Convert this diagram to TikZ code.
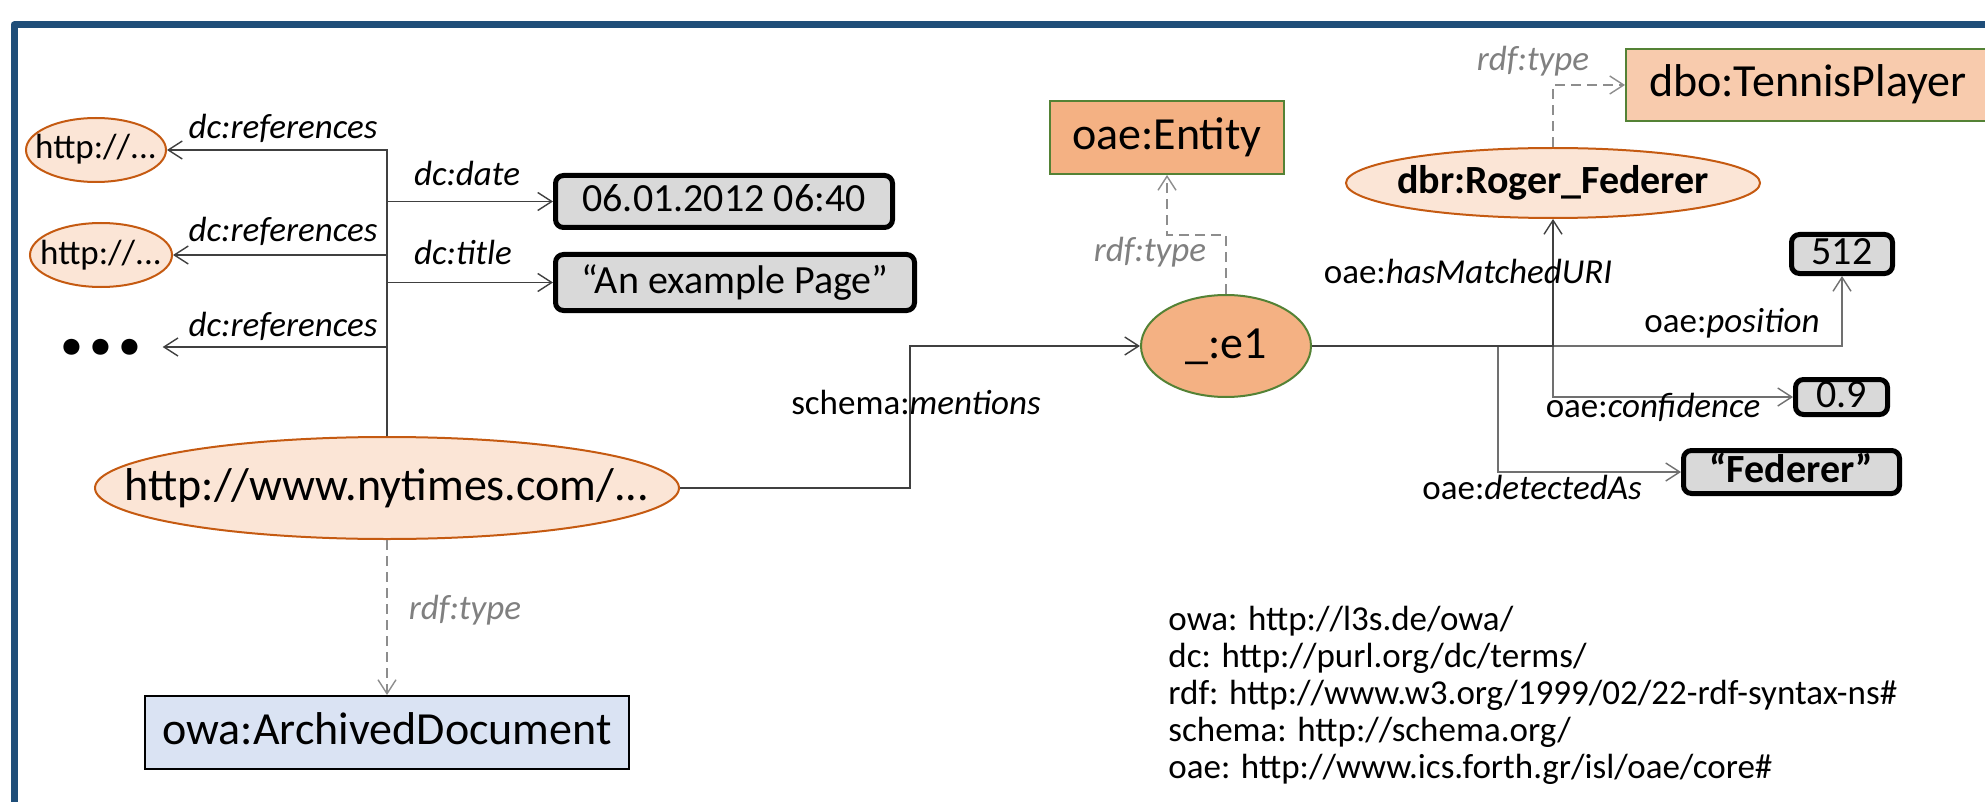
\documentclass[tikz,border=0pt]{standalone}
\usepackage{fontspec}
\setmainfont{Carlito}
\usetikzlibrary{arrows.meta,shapes.geometric}
\definecolor{frameblue}{HTML}{1F4E79}
\definecolor{peach}{HTML}{FBE5D6}
\definecolor{brownline}{HTML}{C55A11}
\definecolor{orangefill}{HTML}{F4B183}
\definecolor{lightorange}{HTML}{F8CBAD}
\definecolor{greenline}{HTML}{548235}
\definecolor{litgray}{HTML}{D9D9D9}
\definecolor{classblue}{HTML}{DAE3F3}
\definecolor{typegray}{HTML}{808080}
\definecolor{linegray}{HTML}{404040}
\definecolor{midgray}{HTML}{707070}
\newcommand\setfs[1]{\fontsize{#1}{#1}\selectfont}
\newcommand\nowidth[1]{\makebox[0pt]{#1}}
\begin{document}
\begin{tikzpicture}[x=0.5pt,y=-0.5pt,
  bigtext/.style={font=\setfs{23pt}, text height=16pt, text depth=4pt},
  midtext/.style={font=\setfs{20pt}, text height=14pt, text depth=3.5pt},
  smalltext/.style={font=\setfs{17.5pt}, text height=12pt, text depth=3pt},
  uri/.style={ellipse, draw=brownline, fill=peach, line width=1pt, inner sep=0pt},
  blank/.style={ellipse, draw=greenline, fill=orangefill, line width=1pt, inner sep=0pt},
  cls/.style={rectangle, draw=greenline, line width=1pt, inner sep=0pt, bigtext},
  lit/.style={rectangle, rounded corners=4pt, draw=black, line width=2.5pt, fill=litgray, inner sep=0pt, midtext},
  lbl/.style={inner sep=0pt, smalltext},
  typelbl/.style={inner sep=0pt, smalltext, text=typegray, font=\setfs{17.5pt}\itshape},
  conn/.style={draw=linegray, line width=0.7pt, -{Straight Barb[length=7pt,width=9pt]}},
  grayconn/.style={conn, draw=midgray},
  typeconn/.style={draw=typegray!90, line width=0.7pt, dash pattern=on 5pt off 3pt, -{Straight Barb[length=7pt,width=9pt]}}
]
\useasboundingbox (0,0) rectangle (1985,802);
\fill[white] (0,0) rectangle (1985,802);
\draw[frameblue, line width=3.5pt, line join=round] (14,810) -- (14,25) -- (1995,25);

% nodes
\node[uri, minimum width=70pt, minimum height=32pt, smalltext] (http1) at (96,150) {\nowidth{http://...}};
\node[uri, minimum width=71pt, minimum height=32pt, smalltext] (http2) at (101,255) {\nowidth{http://...}};
\node[inner xsep=9pt, inner ysep=0pt, font=\setfs{54pt}\bfseries, text height=7pt, text depth=0pt] (dots) at (101,347) {...};
\node[uri, minimum width=292pt, minimum height=51pt, bigtext] (nyt) at (387,488) {\nowidth{http://www.nytimes.com/...}};
\node[rectangle, draw=black, fill=classblue, line width=1pt, inner sep=0pt, minimum width=242pt, minimum height=36.5pt, bigtext] (arch) at (387,732.5) {owa:ArchivedDocument};
\node[lit, minimum width=168.5pt, minimum height=26pt] (date) at (724,201.5) {06.01.2012 06:40};
\node[lit, minimum width=179.5pt, minimum height=28pt] (title) at (735,282.5) {“An example Page”};
\node[cls, fill=orangefill, minimum width=117pt, minimum height=36.5pt] (entity) at (1167,137.5) {oae:Entity};
\node[blank, minimum width=85pt, minimum height=51pt, bigtext] (e1) at (1226,346) {\nowidth{\_:e1}};
\node[cls, fill=lightorange, anchor=west, inner xsep=0pt, minimum width=200pt, minimum height=36pt] (tennis) at (1625,85) {\makebox[200pt][l]{\hspace*{11.5pt}dbo:TennisPlayer}};
\node[uri, minimum width=207pt, minimum height=35pt, midtext, font=\setfs{20pt}\bfseries] (fed) at (1553,183) {\nowidth{dbr:Roger\_Federer}};
\node[lit, minimum width=50.5pt, minimum height=19.5pt] (n512) at (1842,254) {512};
\node[lit, minimum width=46pt, minimum height=17.5pt] (n09) at (1841.5,397) {0.9};
\node[lit, minimum width=108pt, minimum height=21.5pt, font=\setfs{20pt}\bfseries] (fedlit) at (1791.5,472) {“Federer”};

% helper coordinates
\coordinate (mbend) at (910,420);
\coordinate (rbend) at (1200,235);
\coordinate (cbend) at (1553,397);
\coordinate (dbend) at (1498,420);

% connectors
\draw[conn] (nyt.north) |- (http1.east);
\draw[conn] (nyt.north) |- (http2.east);
\draw[conn] (nyt.north) |- (dots.east);
\draw[conn] (nyt.north) |- (date.west);
\draw[conn] (nyt.north) |- (title.west);
\draw[conn] (nyt.east) -| (mbend) |- (e1.west);
\draw[typeconn] (nyt.south) -- (arch.north);
\draw[typeconn] (e1.north) |- (rbend) -| (entity.south);
\draw[typeconn] (fed.north) |- (tennis.west);
\draw[grayconn] (e1.east) -| (n512.south);
\draw[grayconn] (e1.east) -| (dbend) |- (fedlit.west);
\draw[grayconn] (e1.east) -| (cbend) |- (n09.west);
\draw[conn] (e1.east) -| (fed.south);

% labels
\node[lbl, font=\setfs{17.5pt}\itshape] (lref1) at (283,130) {dc:references};
\node[lbl, font=\setfs{17.5pt}\itshape] (lref2) at (283,233) {dc:references};
\node[lbl, font=\setfs{17.5pt}\itshape] (lref3) at (283,327) {dc:references};
\node[lbl, font=\setfs{17.5pt}\itshape] (ldate) at (467,177) {dc:date};
\node[lbl, font=\setfs{17.5pt}\itshape] (ltitle) at (463,255) {dc:title};
\node[lbl] (lment) at (916,405) {schema:\textit{mentions}};
\node[typelbl] (ltype1) at (465,610) {rdf:type};
\node[typelbl] (ltype2) at (1150,253) {rdf:type};
\node[typelbl] (ltype3) at (1533,62) {rdf:type};
\node[lbl] (lmatch) at (1468,275) {oae:\textit{hasMatchedURI}};
\node[lbl] (lpos) at (1732,323) {oae:\textit{position}};
\node[lbl] (lconf) at (1653,408) {oae:\textit{confidence}};
\node[lbl] (ldet) at (1532,490) {oae:\textit{detectedAs}};

% legend
\node[anchor=north west, inner sep=0pt, align=left, font=\fontsize{17.5pt}{18.5pt}\selectfont] (legend) at (1168,606) {owa: http://l3s.de/owa/\\dc: http://purl.org/dc/terms/\\rdf: http://www.w3.org/1999/02/22-rdf-syntax-ns\#\\schema: http://schema.org/\\oae: http://www.ics.forth.gr/isl/oae/core\#};
\end{tikzpicture}
\end{document}
